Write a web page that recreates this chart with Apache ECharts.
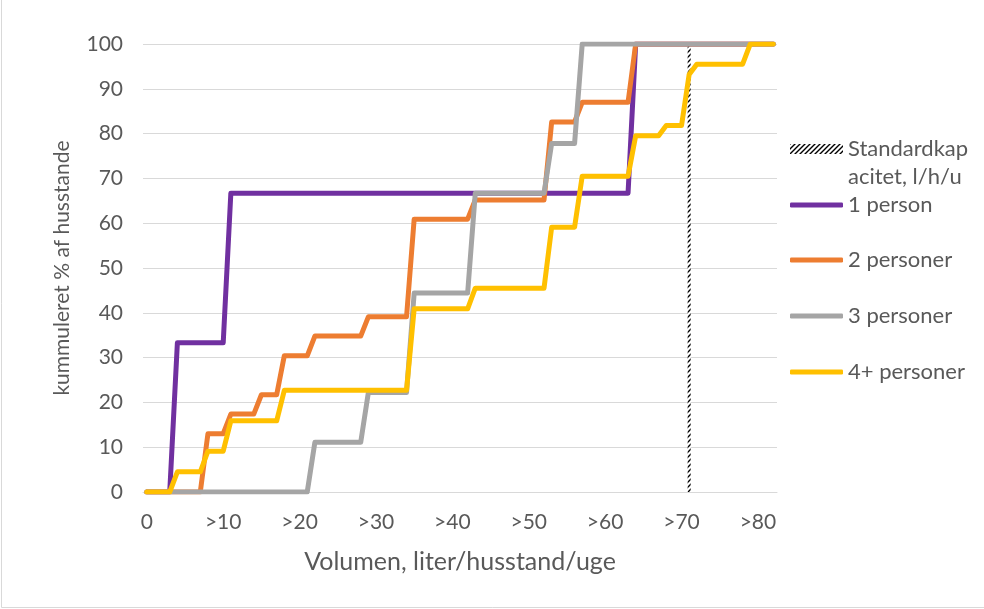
<!DOCTYPE html>
<html>
<head>
<meta charset="utf-8">
<script src="https://cdn.jsdelivr.net/npm/echarts@6/dist/echarts.min.js"></script>
<style>
html,body{margin:0;padding:0;background:#fff;}
#chart{width:984px;height:609px;}
</style>
</head>
<body>
<div id="chart"></div>
<script>
// ---- DATA ----
const categories = [
'0','>1','>2','>3','>4','>5','>6','>7','>8','>9',
'>10','>11','>12','>13','>14','>15','>16','>17','>18','>19',
'>20','>21','>22','>23','>24','>25','>26','>27','>28','>29',
'>30','>31','>32','>33','>34','>35','>36','>37','>38','>39',
'>40','>41','>42','>43','>44','>45','>46','>47','>48','>49',
'>50','>51','>52','>53','>54','>55','>56','>57','>58','>59',
'>60','>61','>62','>63','>64','>65','>66','>67','>68','>69',
'>70','>71','>72','>73','>74','>75','>76','>77','>78','>79',
'>80','>81','>82'];

const yTicks = [0,10,20,30,40,50,60,70,80,90,100];

const person1 = [
0,0,0,0,33.3,33.3,33.3,33.3,33.3,33.3,
33.3,66.7,66.7,66.7,66.7,66.7,66.7,66.7,66.7,66.7,
66.7,66.7,66.7,66.7,66.7,66.7,66.7,66.7,66.7,66.7,
66.7,66.7,66.7,66.7,66.7,66.7,66.7,66.7,66.7,66.7,
66.7,66.7,66.7,66.7,66.7,66.7,66.7,66.7,66.7,66.7,
66.7,66.7,66.7,66.7,66.7,66.7,66.7,66.7,66.7,66.7,
66.7,66.7,66.7,66.7,100,100,100,100,100,100,
100,100,100,100,100,100,100,100,100,100,
100,100,100];

const person2 = [
0,0,0,0,0,0,0,0,13.0,13.0,
13.0,17.4,17.4,17.4,17.4,21.7,21.7,21.7,30.4,30.4,
30.4,30.4,34.8,34.8,34.8,34.8,34.8,34.8,34.8,39.1,
39.1,39.1,39.1,39.1,39.1,60.9,60.9,60.9,60.9,60.9,
60.9,60.9,60.9,65.2,65.2,65.2,65.2,65.2,65.2,65.2,
65.2,65.2,65.2,82.6,82.6,82.6,82.6,87.0,87.0,87.0,
87.0,87.0,87.0,87.0,100,100,100,100,100,100,
100,100,100,100,100,100,100,100,100,100,
100,100,100];

const person3 = [
0,0,0,0,0,0,0,0,0,0,
0,0,0,0,0,0,0,0,0,0,
0,0,11.1,11.1,11.1,11.1,11.1,11.1,11.1,22.2,
22.2,22.2,22.2,22.2,22.2,44.4,44.4,44.4,44.4,44.4,
44.4,44.4,44.4,66.7,66.7,66.7,66.7,66.7,66.7,66.7,
66.7,66.7,66.7,77.8,77.8,77.8,77.8,100,100,100,
100,100,100,100,100,100,100,100,100,100,
100,100,100,100,100,100,100,100,100,100,
100,100,100];

const person4 = [
0,0,0,0,4.5,4.5,4.5,4.5,9.1,9.1,
9.1,15.9,15.9,15.9,15.9,15.9,15.9,15.9,22.7,22.7,
22.7,22.7,22.7,22.7,22.7,22.7,22.7,22.7,22.7,22.7,
22.7,22.7,22.7,22.7,22.7,40.9,40.9,40.9,40.9,40.9,
40.9,40.9,40.9,45.5,45.5,45.5,45.5,45.5,45.5,45.5,
45.5,45.5,45.5,59.1,59.1,59.1,59.1,70.5,70.5,70.5,
70.5,70.5,70.5,70.5,79.5,79.5,79.5,79.5,81.8,81.8,
81.8,93.2,95.5,95.5,95.5,95.5,95.5,95.5,95.5,100,
100,100,100];

const capacityCategory = '>71';
const capacityValue = 100;

const seriesNames = ['Standardkapacitet, l/h/u','1 person','2 personer','3 personer','4+ personer'];
const seriesColors = ['#000000','#7030A0','#ED7D31','#A5A5A5','#FFC000'];

// ---- CHART ----
const capacityData = categories.map(c => c === capacityCategory ? capacityValue : null);

const pat = document.createElement('canvas');
pat.width = 5; pat.height = 5;
(function(){
  const c = pat.getContext('2d');
  c.fillStyle = '#fff'; c.fillRect(0,0,5,5);
  c.strokeStyle = '#000'; c.lineWidth = 1.4;
  c.beginPath();
  c.moveTo(-1,6); c.lineTo(6,-1);
  c.moveTo(-1,1); c.lineTo(1,-1);
  c.moveTo(4,6); c.lineTo(6,4);
  c.stroke();
})();

const FONT = 'Lato';
const TXT = '#595959';

const chart = echarts.init(document.getElementById('chart'), null, {renderer:'canvas'});

function lineSeries(name, data, color){
  return {
    name, type:'line', data, symbol:'none', smooth:false,
    lineStyle:{color, width:5, cap:'round', join:'round'},
    itemStyle:{color},
    emphasis:{disabled:true}
  };
}

function legendAt(name, top){
  return {
    data:[{name, icon:'roundRect'}], orient:'vertical', left:790, top, padding:0,
    itemWidth:53, itemHeight:5, itemGap:0,
    textStyle:{fontFamily:FONT, fontSize:22, color:TXT, lineHeight:24},
    selectedMode:false
  };
}

const option = {
  animation:false,
  backgroundColor:'#fff',
  grid:{left:143, right:207, top:44, bottom:117, containLabel:false},
  legend:[
    {
      data:[seriesNames[0]], orient:'vertical', left:790, top:107, padding:0,
      itemWidth:53, itemHeight:10, icon:'rect', selectedMode:false,
      formatter: n => '\nStandardkap\nacitet, l/h/u',
      textStyle:{fontFamily:FONT, fontSize:22, color:TXT, lineHeight:28}
    },
    legendAt(seriesNames[1], 193),
    legendAt(seriesNames[2], 248),
    legendAt(seriesNames[3], 304),
    legendAt(seriesNames[4], 360)
  ],
  xAxis:{
    type:'category', data:categories, boundaryGap:true,
    name:'Volumen, liter/husstand/uge', nameLocation:'middle', nameGap:57,
    nameTextStyle:{fontFamily:FONT, fontSize:25, color:TXT},
    axisLine:{show:true, lineStyle:{color:'#d9d9d9', width:1}},
    axisTick:{show:false},
    axisLabel:{interval:9, fontFamily:FONT, fontSize:21, color:TXT, margin:20},
    splitLine:{show:false}
  },
  yAxis:{
    type:'value', min:yTicks[0], max:yTicks[yTicks.length-1], interval:10,
    name:'kummuleret % af husstande', nameLocation:'middle', nameGap:70,
    nameTextStyle:{fontFamily:FONT, fontSize:21, color:TXT},
    axisLine:{show:false}, axisTick:{show:false},
    axisLabel:{fontFamily:FONT, fontSize:21, color:TXT, margin:20},
    splitLine:{lineStyle:{color:'#d9d9d9', width:1}}
  },
  series:[
    {
      name:seriesNames[0], type:'bar', data:capacityData, barWidth:3,
      itemStyle:{color:{image:pat, repeat:'repeat'}},
      emphasis:{disabled:true}
    },
    lineSeries(seriesNames[1], person1, seriesColors[1]),
    lineSeries(seriesNames[2], person2, seriesColors[2]),
    lineSeries(seriesNames[3], person3, seriesColors[3]),
    lineSeries(seriesNames[4], person4, seriesColors[4])
  ],
  graphic:[
    {type:'polyline', shape:{points:[[1.5,0],[1.5,607.5],[984,607.5]]}, style:{stroke:'#d9d9d9', lineWidth:1, fill:null}, silent:true}
  ]
};
chart.setOption(option);
</script>
</body>
</html>
